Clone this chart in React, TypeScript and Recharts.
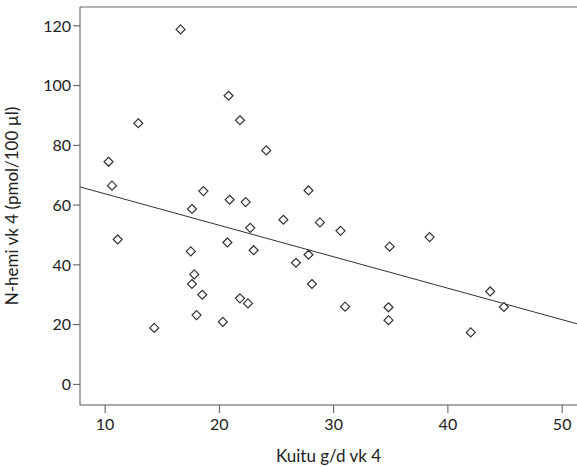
import { ReferenceLine, Scatter, ScatterChart, XAxis, YAxis } from 'recharts';

// Kuitu g/d vk 4
const fibre = [
  16.6, 20.8, 21.8, 12.9, 24.1, 10.3, 10.6, 18.6, 27.8, 17.6,
  20.9, 22.3, 25.6, 28.8, 22.7, 11.1, 20.7, 23.0, 17.5, 27.8,
  26.7, 17.8, 17.6, 28.1, 18.5, 21.8, 22.5, 18.0, 20.3, 14.3,
  30.6, 38.4, 34.9, 43.7, 31.0, 34.8, 44.9, 34.8, 42.0,
];

// N-hemi vk 4 (pmol/100 µl)
const nHemi = [
  118.8, 96.6, 88.4, 87.4, 78.3, 74.5, 66.5, 64.7, 64.9, 58.7,
  61.8, 61.0, 55.1, 54.2, 52.4, 48.5, 47.5, 44.9, 44.5, 43.4,
  40.7, 36.8, 33.6, 33.6, 30.0, 28.8, 27.1, 23.2, 20.9, 18.9,
  51.4, 49.3, 46.1, 31.1, 26.0, 25.8, 25.9, 21.5, 17.4,
];

const xTicks = [10, 20, 30, 40, 50];
const yTicks = [0, 20, 40, 60, 80, 100, 120];

const X_DOMAIN = [7.8, 51.3];
const Y_DOMAIN = [-6.9, 126.3];

// fit line
const FIT_INTERCEPT = 74.3;
const FIT_SLOPE = -1.053;

const points = fibre.map((x, i) => ({ x, y: nHemi[i] }));

const FONT = 'Lato, "Open Sans", sans-serif';

const Diamond = (props: any) => {
  const { cx, cy } = props;
  const r = 4.5;
  return (
    <polygon
      points={`${cx},${cy - r} ${cx + r},${cy} ${cx},${cy + r} ${cx - r},${cy}`}
      fill="#fff"
      stroke="#333"
      strokeWidth={1.2}
    />
  );
};

export default function App() {
  return (
    <div style={{ position: 'absolute', left: 0, top: 0, background: '#fff' }}>
      <ScatterChart width={577} height={467} margin={{ top: 7, right: 0, bottom: 0, left: 0 }}>
        <XAxis
          type="number"
          dataKey="x"
          domain={X_DOMAIN}
          ticks={xTicks}
          allowDataOverflow
          height={62}
          tickSize={8}
          tickMargin={6}
          stroke="#555"
          tick={{ fill: '#222', fontSize: 16, fontFamily: FONT }}
          label={{ value: 'Kuitu g/d vk 4', position: 'insideBottom', offset: 5, fill: '#222', fontSize: 17, fontFamily: FONT }}
        />
        <YAxis
          type="number"
          dataKey="y"
          domain={Y_DOMAIN}
          ticks={yTicks}
          allowDataOverflow
          width={80}
          tickSize={7}
          tickMargin={2}
          stroke="#555"
          tick={{ fill: '#222', fontSize: 16, fontFamily: FONT }}
          label={{ value: 'N-hemi vk 4 (pmol/100 µl)', angle: -90, position: 'insideLeft', offset: 12, dy: 0, fill: '#222', fontSize: 17, fontFamily: FONT, style: { textAnchor: 'middle' } }}
        />
        <ReferenceLine y={Y_DOMAIN[1]} stroke="#999" strokeWidth={1.5} ifOverflow="extendDomain" />
        <ReferenceLine
          segment={[
            { x: X_DOMAIN[0], y: FIT_INTERCEPT + FIT_SLOPE * X_DOMAIN[0] },
            { x: X_DOMAIN[1], y: FIT_INTERCEPT + FIT_SLOPE * X_DOMAIN[1] },
          ]}
          stroke="#333"
          strokeWidth={1}
        />
        <Scatter data={points} shape={<Diamond />} isAnimationActive={false} />
      </ScatterChart>
    </div>
  );
}
